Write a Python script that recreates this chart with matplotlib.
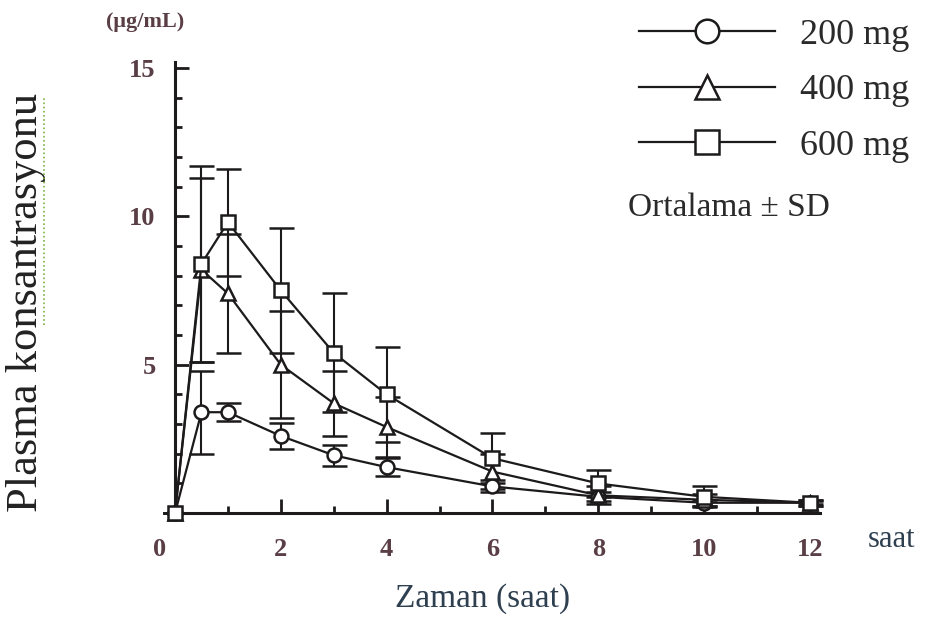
import matplotlib.pyplot as plt
from matplotlib.lines import Line2D
from matplotlib.ticker import FixedLocator, MultipleLocator
from matplotlib.transforms import ScaledTranslation

# sampling times (h) and mean +- SD plasma levels per dose
hours = [0, 0.5, 1, 2, 3, 4, 6, 8, 10, 12]
mean_200 = [0, 3.4, 3.4, 2.6, 1.95, 1.55, 0.9, 0.55, 0.35, 0.35]
sd_200 = [0, 1.4, 0.3, 0.45, 0.35, 0.3, 0.2, 0.15, 0.1, 0.05]
mean_400 = [0, 8.2, 7.4, 5.0, 3.7, 2.9, 1.4, 0.6, 0.45, 0.35]
sd_400 = [0, 3.1, 2.0, 1.8, 1.1, 1.0, 0.6, 0.3, 0.2, 0.1]
mean_600 = [0, 8.4, 9.8, 7.5, 5.4, 4.0, 1.85, 1.0, 0.55, 0.35]
sd_600 = [0, 3.3, 1.8, 2.1, 2.0, 1.6, 0.85, 0.45, 0.35, 0.1]

doses = ["200 mg", "400 mg", "600 mg"]
markers = ["o", "^", "s"]
x_ticks = [0, 2, 4, 6, 8, 10, 12]
y_ticks = [5, 10, 15]

ink = "#1c1a1a"
tick_col = "#5a3e46"
serif = "Liberation Serif"

fig = plt.figure(figsize=(9.26, 6.19), dpi=100)
ax = fig.add_axes([0.189, 0.171, 0.697, 0.729])

series = [(mean_200, sd_200), (mean_400, sd_400), (mean_600, sd_600)]
for (m, s), mk in zip(series, markers):
    ax.errorbar(hours, m, yerr=s, fmt="-", marker=mk, color=ink, lw=1.6,
                ms=10, mfc="white", mec=ink, mew=1.8, ecolor=ink,
                elinewidth=1.5, capsize=9, capthick=1.5, clip_on=False,
                zorder=3)

ax.set_xlim(0, 12.2)
ax.set_ylim(0, 15.2)
for side in ["top", "right"]:
    ax.spines[side].set_visible(False)
for side in ["left", "bottom"]:
    ax.spines[side].set_linewidth(2.2)
    ax.spines[side].set_color(ink)

ax.xaxis.set_major_locator(FixedLocator(x_ticks))
ax.xaxis.set_minor_locator(MultipleLocator(1))
ax.yaxis.set_major_locator(FixedLocator(y_ticks))
ax.yaxis.set_minor_locator(MultipleLocator(1))
ax.tick_params(which="both", direction="in", color=ink, width=2)
ax.tick_params(which="major", length=10)
ax.tick_params(which="minor", length=5)
ax.tick_params(axis="x", which="major", pad=18)
ax.tick_params(axis="y", which="major", pad=14)
for lbl in ax.get_xticklabels() + ax.get_yticklabels():
    lbl.set_fontfamily(serif)
    lbl.set_fontweight("bold")
    lbl.set_fontsize(19)
    lbl.set_color(tick_col)
# the "0" sits a little left of the origin in the original
zero = ax.get_xticklabels()[0]
zero.set_transform(zero.get_transform()
                   + ScaledTranslation(-0.15, 0, fig.dpi_scale_trans))

ax.set_xlabel("Zaman (saat)", fontfamily=serif, fontsize=24, color="#2e3f50")
ax.xaxis.set_label_coords(0.476, -0.155)
ax.set_ylabel("Plasma konsantrasyonu", fontfamily=serif, fontsize=32,
              color="#222222")
ax.yaxis.set_label_coords(-0.2, 0.468)
fig.text(0.937, 0.128, "saat", fontfamily=serif, fontsize=22,
         color="#2e3f50", ha="left", va="center")
fig.text(0.157, 0.965, "(μg/mL)", fontfamily=serif, fontsize=16,
         fontweight="bold", color=tick_col, ha="center", va="center")

# spell-check squiggle under "konsantrasyonu"
fig.add_artist(Line2D([0.048, 0.048], [0.475, 0.845], color="#7cb342",
                      lw=1.2, ls=(0, (1, 1.5))))

handles = [Line2D([], [], color=ink, lw=1.6, marker=mk, ms=17, mfc="white",
                  mec=ink, mew=1.8) for mk in markers]
leg = ax.legend(handles, doses, loc="upper right", bbox_to_anchor=(1.017, 1.023),
                bbox_transform=fig.transFigure, frameon=False, handlelength=3.75,
                handletextpad=0.7, labelspacing=0.62,
                prop={"family": serif, "size": 26})
for t in leg.get_texts():
    t.set_color("#2a2a2a")
fig.text(0.678, 0.664, "Ortalama ± SD", fontfamily=serif, fontsize=24,
         color="#2a2a2a", ha="left", va="center")

fig.savefig("out.png", dpi=100)
